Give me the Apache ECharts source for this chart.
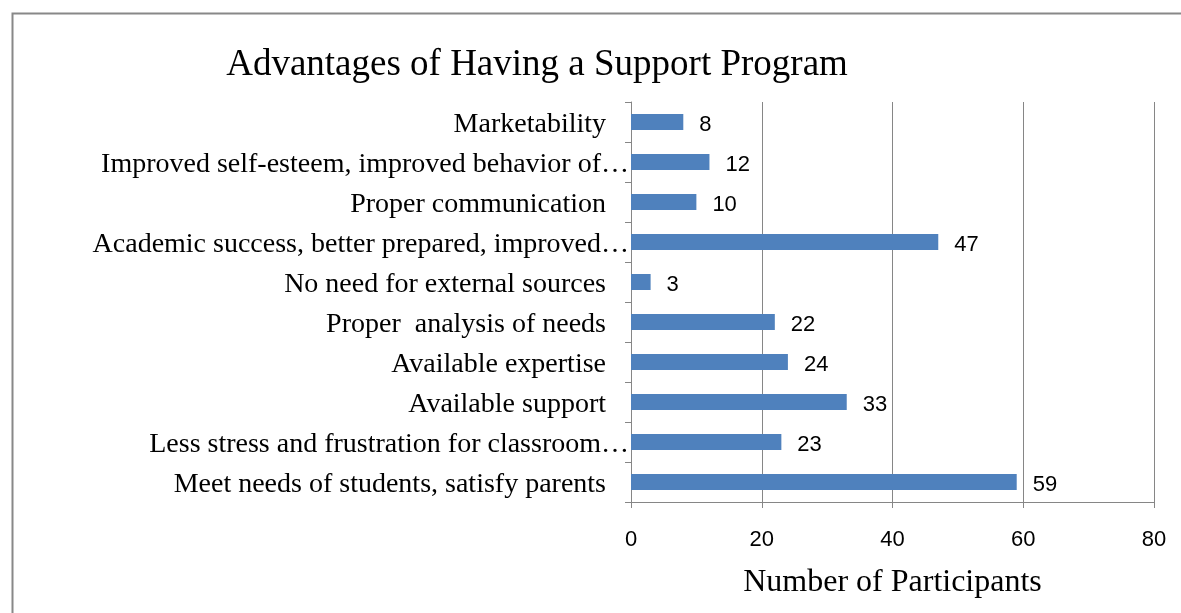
<!DOCTYPE html>
<html><head><meta charset="utf-8">
<script src="https://cdn.jsdelivr.net/npm/echarts@6/dist/echarts.min.js"></script>
<style>html,body{margin:0;padding:0;background:#fff}#c{width:1181px;height:613px}</style>
</head><body><div id="c"></div>
<script>
const categories = [
  "Marketability",
  "Improved self-esteem, improved behavior of…",
  "Proper communication",
  "Academic success, better prepared, improved…",
  "No need for external sources",
  "Proper  analysis of needs",
  "Available expertise",
  "Available support",
  "Less stress and frustration for classroom…",
  "Meet needs of students, satisfy parents"
];
const values = [8, 12, 10, 47, 3, 22, 24, 33, 23, 59];
const xTicks = [0, 20, 40, 60, 80];

const chart = echarts.init(document.getElementById('c'));
chart.setOption({
  animation: false,
  backgroundColor: '#fff',
  title: {
    text: 'Advantages of Having a Support Program',
    left: 532, top: 42, textAlign: 'center',
    textStyle: {fontFamily: 'Liberation Serif', fontSize: 37, fontWeight: 'normal', color: '#000'}
  },
  graphic: [{
    type: 'rect', left: 10, top: 11, silent: true,
    shape: {width: 1200, height: 700},
    style: {fill: 'none', stroke: '#888', lineWidth: 2}
  }],
  grid: {left: 631, right: 27, top: 102, bottom: 111, outerBoundsMode: 'none', containLabel: false},
  xAxis: {
    type: 'value', min: xTicks[0], max: xTicks[xTicks.length - 1], interval: 20,
    name: 'Number of Participants', nameLocation: 'middle', nameGap: 65,
    nameTextStyle: {fontFamily: 'Liberation Serif', fontSize: 32, color: '#000'},
    axisLine: {show: true, lineStyle: {color: '#868686', width: 1}},
    axisTick: {show: true, length: 6, lineStyle: {color: '#868686'}},
    axisLabel: {fontFamily: 'Liberation Sans', fontSize: 22, color: '#000', margin: 27},
    splitLine: {show: true, lineStyle: {color: '#868686', width: 1}}
  },
  yAxis: {
    type: 'category', data: categories, inverse: true,
    axisLine: {show: true, lineStyle: {color: '#868686', width: 1}},
    axisTick: {show: true, length: 6, lineStyle: {color: '#868686'}},
    axisLabel: {
      margin: 2,
      formatter: function (v) { return v.endsWith('…') ? '{e|' + v + '}' : '{n|' + v + '}'; },
      rich: {
        e: {fontFamily: 'Liberation Serif', fontSize: 28, color: '#000', padding: [6, 0, 0, 0]},
        n: {fontFamily: 'Liberation Serif', fontSize: 28, color: '#000', padding: [6, 23, 0, 0]}
      }
    },
    splitLine: {show: false}
  },
  series: [{
    type: 'bar', data: values, barWidth: 16,
    itemStyle: {color: '#4F81BD'},
    label: {show: true, position: 'right', distance: 16, offset: [0, 3],
      fontFamily: 'Liberation Sans', fontSize: 22, color: '#000'}
  }]
});
</script></body></html>
